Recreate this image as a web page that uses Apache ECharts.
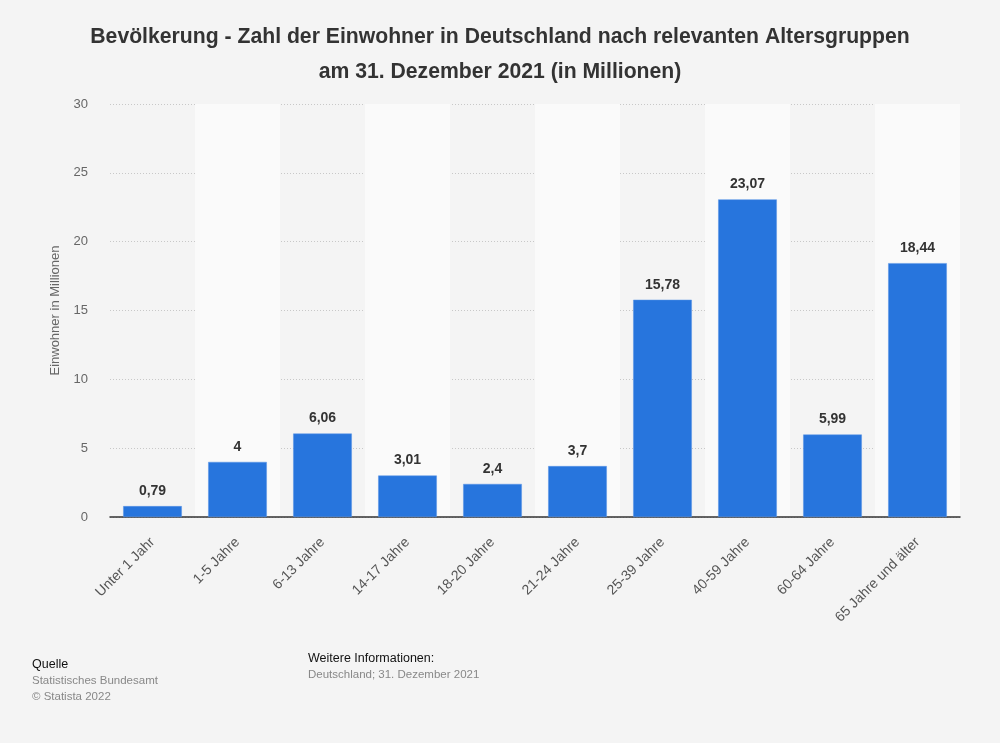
<!DOCTYPE html>
<html><head><meta charset="utf-8">
<script src="https://cdn.jsdelivr.net/npm/echarts@6/dist/echarts.min.js"></script>
<style>html,body{margin:0;padding:0;background:#f4f4f4;}#c{width:1000px;height:743px;}</style>
</head><body><div id="c"></div>
<script>
const categories = ['Unter 1 Jahr','1-5 Jahre','6-13 Jahre','14-17 Jahre','18-20 Jahre','21-24 Jahre','25-39 Jahre','40-59 Jahre','60-64 Jahre','65 Jahre und älter'];
const values = [0.79, 4, 6.06, 3.01, 2.4, 3.7, 15.78, 23.07, 5.99, 18.44];
const yTicks = [0, 5, 10, 15, 20, 25, 30];
const titleLines = ['Bevölkerung - Zahl der Einwohner in Deutschland nach relevanten Altersgruppen', 'am 31. Dezember 2021 (in Millionen)'];
const yAxisName = 'Einwohner in Millionen';

const chart = echarts.init(document.getElementById('c'));
const fmt = v => String(v).replace('.', ',');
const FF = 'Liberation Sans, Arial';
chart.setOption({
  backgroundColor: '#f4f4f4',
  animation: false,
  title: {
    text: titleLines.join('\n'),
    left: 'center', top: 15,
    textStyle: { fontFamily: FF, fontSize: 21.2, fontWeight: 'bold', color: '#333', lineHeight: 35 }
  },
  grid: { left: 110, right: 40, top: 104, bottom: 226 },
  xAxis: {
    type: 'category', data: categories,
    axisLine: { lineStyle: { color: '#333', width: 1.5 } },
    axisTick: { show: false },
    axisLabel: { rotate: 45, color: '#555', fontSize: 14, fontFamily: FF, interval: 0, margin: 23 },
    splitArea: { show: true, areaStyle: { color: ['rgba(0,0,0,0)', '#fafafa'] } }
  },
  yAxis: {
    type: 'value', min: yTicks[0], max: yTicks[yTicks.length - 1], interval: 5,
    name: yAxisName, nameLocation: 'middle', nameGap: 48,
    nameTextStyle: { color: '#666', fontSize: 13, fontFamily: FF },
    axisLine: { show: false }, axisTick: { show: false },
    axisLabel: { color: '#666', fontSize: 13, fontFamily: FF, margin: 22 },
    splitLine: { lineStyle: { color: '#c8c8c8', type: [1, 2], width: 1 } }
  },
  series: [{
    type: 'bar', data: values, barWidth: '69%',
    itemStyle: { color: '#2775dd', borderColor: '#5b95e6', borderWidth: 0.5 },
    label: { show: true, position: 'top', distance: 8, formatter: p => fmt(p.value),
      color: '#333', fontSize: 14, fontWeight: 'bold', fontFamily: FF }
  }],
  graphic: [
    { type: 'text', left: 32, top: 658, style: { text: 'Quelle', fill: '#111', font: '12.5px Liberation Sans, Arial' } },
    { type: 'text', left: 32, top: 675, style: { text: 'Statistisches Bundesamt', fill: '#888', font: '11.5px Liberation Sans, Arial' } },
    { type: 'text', left: 32, top: 691, style: { text: '© Statista 2022', fill: '#888', font: '11.5px Liberation Sans, Arial' } },
    { type: 'text', left: 308, top: 652, style: { text: 'Weitere Informationen:', fill: '#111', font: '12.5px Liberation Sans, Arial' } },
    { type: 'text', left: 308, top: 669, style: { text: 'Deutschland; 31. Dezember 2021', fill: '#888', font: '11.5px Liberation Sans, Arial' } }
  ]
});
</script></body></html>
